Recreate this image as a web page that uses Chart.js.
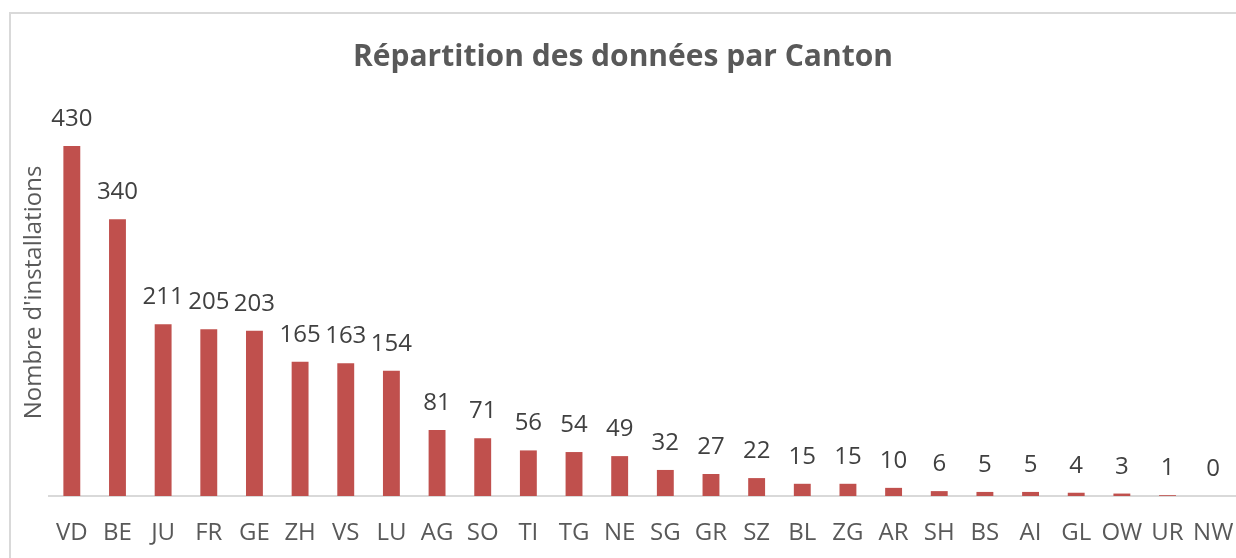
<!DOCTYPE html>
<html>
<head>
<meta charset="utf-8">
<script src="https://cdn.jsdelivr.net/npm/chart.js@4.4.0/dist/chart.umd.min.js"></script>
<style>
  html, body { margin: 0; padding: 0; background: #fff; overflow: hidden; }
  #frame { position: absolute; left: 9px; top: 12px; width: 1300px; height: 600px; border: 2px solid #d9d9d9; }
  #wrap { position: absolute; left: 0; top: 0; width: 1236px; height: 558px; }
</style>
</head>
<body>
<div id="frame"></div>
<div id="wrap"><canvas id="chart"></canvas></div>
<script>
var cantons = ["VD","BE","JU","FR","GE","ZH","VS","LU","AG","SO","TI","TG","NE","SG","GR","SZ","BL","ZG","AR","SH","BS","AI","GL","OW","UR","NW"];
var installations = [430,340,211,205,203,165,163,154,81,71,56,54,49,32,27,22,15,15,10,6,5,5,4,3,1,0];

// étiquettes de valeurs au-dessus des barres
var valueLabels = {
	id: 'valueLabels',
	afterDatasetsDraw: function(chart) {
		var ctx = chart.ctx;
		var meta = chart.getDatasetMeta(0);
		ctx.save();
		ctx.font = '24px "Open Sans"';
		ctx.fillStyle = '#404040';
		ctx.textAlign = 'center';
		ctx.textBaseline = 'alphabetic';
		meta.data.forEach(function(bar, i) {
			ctx.fillText(String(installations[i]), bar.x, bar.y - 20);
		});
		ctx.restore();
	}
};

var ctx = document.getElementById("chart");
var barGraph = new Chart(ctx, {
	type: 'bar',
	data: {
		labels: cantons,
		datasets: [
			{
				label: 'Installations',
				backgroundColor: '#C0504D',
				data: installations,
				barPercentage: 0.37,
				categoryPercentage: 1
			}
		]
	},
	plugins: [valueLabels],
	options: {
		responsive: true,
		maintainAspectRatio: false,
		animation: false,
		layout: { padding: { left: 10, right: 0, top: 13, bottom: 0 } },
		plugins: {
			legend: { display: false },
			tooltip: { enabled: false },
			title: {
				display: true,
				text: 'Répartition des données par Canton',
				color: '#595959',
				font: { family: 'Open Sans', size: 30, weight: 'bold' },
				padding: { top: 26, bottom: 14 }
			}
		},
		scales: {
			x: {
				grid: { display: false, drawTicks: false },
				border: { display: true, color: '#d9d9d9', width: 2 },
				ticks: {
					color: '#595959',
					font: { family: 'Open Sans', size: 24 },
					padding: 23,
					maxRotation: 0,
					autoSkip: false
				},
				afterFit: function(s) {
					s.height = 62;
					s.paddingLeft = 0;
					s.paddingRight = 0;
				}
			},
			y: {
				min: 0,
				max: 500,
				grid: { display: false, drawTicks: false },
				border: { display: false },
				ticks: { display: false },
				title: {
					display: true,
					text: "Nombre d'installations",
					color: '#595959',
					font: { family: 'Open Sans', size: 24 },
					padding: { top: 10, bottom: 0 }
				},
				afterFit: function(s) { s.width = 39; }
			}
		}
	}
});
</script>
</body>
</html>
